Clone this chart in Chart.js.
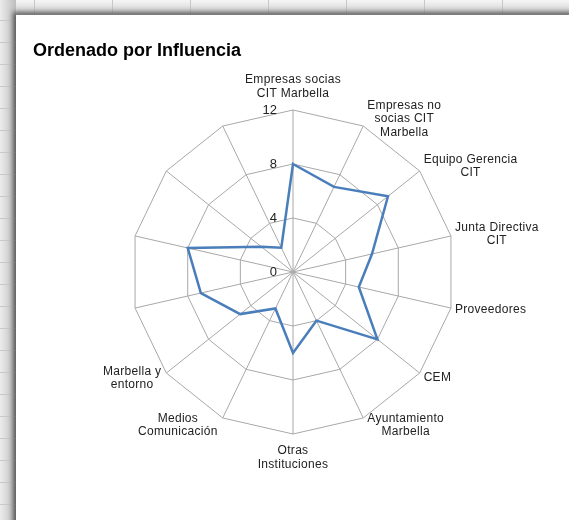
<!DOCTYPE html>
<html>
<head>
<meta charset="utf-8">
<script src="https://cdn.jsdelivr.net/npm/chart.js@4"></script>
<style>
    html, body { margin: 0; padding: 0; }
    body {
        width: 569px; height: 520px; overflow: hidden; position: relative;
        background: #e9e9e9;
        font-family: "Liberation Sans", Arial, sans-serif;
    }
    .topbar {
        position: absolute; left: 0; top: 0; width: 569px; height: 14px;
        background-image: repeating-linear-gradient(90deg, transparent 0 34px, #c8c8c8 34px 35px, transparent 35px 78px), linear-gradient(#f6f6f6, #cfcfcf);
    }
    .leftbar {
        position: absolute; left: 0; top: 0; width: 16px; height: 520px;
        background-image: repeating-linear-gradient(180deg, transparent 0 20px, #c8c8c8 20px 21px, transparent 21px 22px), linear-gradient(90deg, #ececec, #bdbdbd);
    }
    .sheet {
        position: absolute; left: 16px; top: 15px; width: 560px; height: 520px;
        background: #fff;
        box-shadow: -3px -3px 5px rgba(0,0,0,0.55);
    }
    .title {
        position: absolute; left: 33px; top: 40px;
        font-size: 18px; font-weight: bold; color: #000;
    }
    #chart { position: absolute; left: 0; top: 0; }
</style>
</head>
<body>
<div class="topbar"></div>
<div class="leftbar"></div>
<div class="sheet"></div>
<canvas id="chart" width="569" height="520"></canvas>
<div class="title">Ordenado por Influencia</div>
<script>
const categories = [
    ['Empresas socias', 'CIT Marbella'],
    ['Empresas no', 'socias CIT', 'Marbella'],
    ['Equipo Gerencia', 'CIT'],
    ['Junta Directiva', 'CIT'],
    ['Proveedores'],
    ['CEM'],
    ['Ayuntamiento', 'Marbella'],
    ['Otras', 'Instituciones'],
    ['Medios', 'Comunicación'],
    ['Marbella y', 'entorno'],
    [''],
    [''],
    [''],
    ['']
];
const influencia = [8, 7, 9, 6, 5, 8, 4, 6, 3, 5, 7, 8, 3, 2];
const tickValues = [0, 4, 8, 12];

const fontFamily = "'Liberation Sans', Arial, sans-serif";

// Excel puts the axis numbers left of the top spoke
const tickLabels = {
    id: 'tickLabels',
    afterDraw(chart) {
        const scale = chart.scales.r;
        const ctx = chart.ctx;
        ctx.save();
        ctx.font = '13px ' + fontFamily;
        ctx.fillStyle = '#222';
        ctx.textAlign = 'right';
        ctx.textBaseline = 'middle';
        tickValues.forEach(v => {
            const d = scale.getDistanceFromCenterForValue(v);
            ctx.fillText(String(v), scale.xCenter - 16, scale.yCenter - d);
        });
        ctx.restore();
    }
};

// category names as centred blocks, placed the way Excel does it
const spokeLabels = {
    id: 'spokeLabels',
    afterDraw(chart) {
        const scale = chart.scales.r;
        const ctx = chart.ctx;
        const n = categories.length;
        const lh = 13.5;
        ctx.save();
        ctx.font = '12px ' + fontFamily;
        if ('letterSpacing' in ctx) ctx.letterSpacing = '0.3px';
        ctx.fillStyle = '#222';
        ctx.textAlign = 'center';
        ctx.textBaseline = 'middle';
        categories.forEach((lines, i) => {
            if (!lines.join('')) return;
            const p = scale.getPointPosition(i, scale.drawingArea);
            const a = (i / n) * Math.PI * 2;
            const s = Math.sin(a), c = Math.cos(a);
            const w = Math.max(...lines.map(t => ctx.measureText(t).width));
            const h = lines.length * lh;
            let cx, cy;
            if (Math.abs(s) < 0.1) {
                cx = p.x;
                cy = p.y - Math.sign(c) * (10 + h / 2);
            } else {
                cx = s > 0 ? p.x + 4 + w / 2 : p.x - 5 - w / 2;
                cy = p.y - c * 8;
            }
            lines.forEach((t, k) => {
                ctx.fillText(t, cx, cy - h / 2 + lh * (k + 0.5));
            });
        });
        ctx.restore();
    }
};

new Chart(document.getElementById('chart'), {
    type: 'radar',
    data: {
        labels: categories,
        datasets: [{
            data: influencia,
            borderColor: '#4a7ebb',
            borderWidth: 2.5,
            backgroundColor: 'transparent',
            fill: false,
            pointRadius: 0,
            tension: 0
        }]
    },
    options: {
        responsive: false,
        animation: false,
        layout: {
            padding: { left: 131, top: 110, right: 114, bottom: 86 }
        },
        plugins: {
            legend: { display: false },
            tooltip: { enabled: false }
        },
        scales: {
            r: {
                min: 0,
                max: 12,
                ticks: { stepSize: 4, display: false },
                grid: { color: '#a8a8a8', lineWidth: 1 },
                angleLines: { color: '#a8a8a8', lineWidth: 1 },
                pointLabels: { display: false }
            }
        }
    },
    plugins: [tickLabels, spokeLabels]
});
</script>
</body>
</html>
